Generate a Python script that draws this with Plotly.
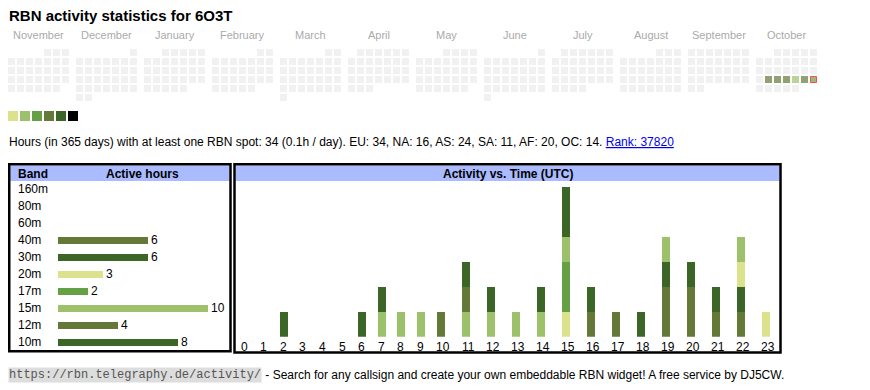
import calendar
import plotly.graph_objects as go

W, H = 870, 390
FONT = "Arial, 'Liberation Sans', Helvetica, sans-serif"
MONO = "'Liberation Mono', 'Courier New', monospace"

# ---------------- data ----------------
title_text = "RBN activity statistics for 6O3T"
month_names = ["November", "December", "January", "February", "March", "April",
               "May", "June", "July", "August", "September", "October"]
month_years = [2024, 2024, 2025, 2025, 2025, 2025, 2025, 2025, 2025, 2025, 2025, 2025]
month_numbers = [11, 12, 1, 2, 3, 4, 5, 6, 7, 8, 9, 10]
active_dates = ["2025-10-21", "2025-10-22", "2025-10-23", "2025-10-24", "2025-10-25", "2025-10-26"]
active_levels = [4, 4, 4, 2, 4, 3]
today = "2025-10-26"
level_colors = ["#dce28c", "#9dc06a", "#65a044", "#647838", "#3b6628", "#000000"]
empty_color = "#ebebeb"

summary_text = ("Hours (in 365 days) with at least one RBN spot: 34 (0.1h / day). "
                "EU: 34, NA: 16, AS: 24, SA: 11, AF: 20, OC: 14. ")
rank_text = "Rank: 37820"

bands = ["160m", "80m", "60m", "40m", "30m", "20m", "17m", "15m", "12m", "10m"]
band_hours = [0, 0, 0, 6, 6, 3, 2, 10, 4, 8]
band_colors = ["#dce28c", "#9dc06a", "#65a044", "#647838", "#3b6628",
               "#dce28c", "#65a044", "#9dc06a", "#647838", "#3b6628"]

hour_labels = [str(h) for h in range(24)]
# stacked from bottom to top
stack_bands = ["40m", "30m", "20m", "17m", "15m", "12m", "10m"]
hourly = {
    "40m": [0, 0, 0, 0, 0, 0, 0, 0, 0, 0, 0, 0, 0, 0, 0, 0, 0, 0, 0, 2, 2, 1, 1, 0],
    "30m": [0, 0, 0, 0, 0, 0, 1, 0, 0, 0, 0, 0, 0, 0, 0, 0, 0, 0, 1, 1, 1, 1, 1, 0],
    "20m": [0, 0, 0, 0, 0, 0, 0, 0, 0, 0, 0, 0, 0, 0, 0, 1, 0, 0, 0, 0, 0, 0, 1, 1],
    "17m": [0, 0, 0, 0, 0, 0, 0, 0, 0, 0, 0, 0, 0, 0, 0, 2, 0, 0, 0, 0, 0, 0, 0, 0],
    "15m": [0, 0, 0, 0, 0, 0, 0, 1, 1, 1, 0, 1, 1, 1, 1, 1, 0, 0, 0, 1, 0, 0, 1, 0],
    "12m": [0, 0, 0, 0, 0, 0, 0, 0, 0, 0, 1, 1, 0, 0, 0, 0, 1, 1, 0, 0, 0, 0, 0, 0],
    "10m": [0, 0, 1, 0, 0, 0, 0, 1, 0, 0, 0, 1, 1, 0, 1, 2, 1, 0, 0, 0, 0, 0, 0, 0],
}

footer_link = "https://rbn.telegraphy.de/activity/"
footer_text = " - Search for any callsign and create your own embeddable RBN widget! A free service by DJ5CW."

# ---------------- layout constants ----------------
CAL_X0, CAL_Y0 = 8, 49
CELL, CELL_SIZE, MONTH_W = 9, 7, 68
LEG_X0, LEG_Y0, LEG_PITCH, LEG_SIZE = 8, 111, 12, 10

TBL = dict(x0=9.25, x1=230.5, y0=164.25, y1=351.25)
ACT = dict(x0=234.5, x1=780.5, y0=164.25, y1=352.5)
HEAD_Y0, HEAD_Y1 = 165.5, 181
ROW_TOP, ROW_H = 180.5, 17
BAR_X0, PX_PER_HOUR = 58, 15

BASE_Y, UNIT_PX, Y_MAX = 336.7, 25, 6.2
HOUR_X0, HOUR_COL_PAD, HOUR_COL_CHAR, BAR_W = 240, 14.2, 5.4, 8


def px(x):
    return x / W


def py(y):
    return 1 - y / H


fig = go.Figure()

# ---------------- calendar ----------------
lookup = dict(zip(active_dates, active_levels))
cx, cy, cc, cs, lc, lw = [], [], [], [], [], []
for m, (yr, mo) in enumerate(zip(month_years, month_numbers)):
    first_wd, ndays = calendar.monthrange(yr, mo)
    for d in range(1, ndays + 1):
        idx = first_wd + d - 1
        col, row = idx % 7, idx // 7
        key = f"{yr:04d}-{mo:02d}-{d:02d}"
        cx.append(CAL_X0 + m * MONTH_W + col * CELL + CELL_SIZE / 2)
        cy.append(CAL_Y0 + row * CELL + CELL_SIZE / 2)
        cc.append(level_colors[lookup[key] - 1] if key in lookup else empty_color)
        if key == today:
            cs.append(CELL_SIZE - 1)
            lc.append("#ff0000")
            lw.append(1)
        else:
            cs.append(CELL_SIZE)
            lc.append(empty_color)
            lw.append(0)

fig.add_trace(go.Scatter(
    x=cx, y=cy, mode="markers", xaxis="x", yaxis="y", hoverinfo="skip",
    marker=dict(symbol="square", size=cs, color=cc, line=dict(color=lc, width=lw)),
))

# colour legend swatches
fig.add_trace(go.Scatter(
    x=[LEG_X0 + LEG_SIZE / 2 + i * LEG_PITCH for i in range(len(level_colors))],
    y=[LEG_Y0 + LEG_SIZE / 2] * len(level_colors),
    mode="markers", xaxis="x", yaxis="y", hoverinfo="skip",
    marker=dict(symbol="square", size=LEG_SIZE, color=level_colors, line=dict(width=0)),
))

# ---------------- band table bars ----------------
fig.add_trace(go.Bar(
    x=band_hours, y=bands, orientation="h", xaxis="x2", yaxis="y2",
    width=7 / ROW_H, marker=dict(color=band_colors, line=dict(width=0)),
    text=[str(v) if v else "" for v in band_hours], textposition="outside",
    textfont=dict(family=FONT, size=12, color="#000"), cliponaxis=False,
    constraintext="none", hoverinfo="skip",
))

# ---------------- activity vs time ----------------
col_left = []
xpos = HOUR_X0
for lab in hour_labels:
    col_left.append(xpos)
    xpos += HOUR_COL_PAD + HOUR_COL_CHAR * len(lab)
bar_centers = [l + BAR_W / 2 for l in col_left]
label_centers = [l + 1 + 3 * len(lab) for l, lab in zip(col_left, hour_labels)]

for b in stack_bands:
    fig.add_trace(go.Bar(
        x=bar_centers, y=hourly[b], width=BAR_W, xaxis="x3", yaxis="y3",
        marker=dict(color=band_colors[bands.index(b)], line=dict(width=0)),
        hoverinfo="skip", name=b,
    ))

# ---------------- annotations ----------------
ann = []
ann.append(dict(text=f"<b>{title_text}</b>", x=px(7), y=py(16), xref="paper", yref="paper",
                xanchor="left", yanchor="middle", showarrow=False,
                font=dict(family=FONT, size=15, color="#000")))
for m, name in enumerate(month_names):
    ann.append(dict(text=name, x=CAL_X0 + m * MONTH_W + (7 * CELL - 2) / 2, y=35,
                    xref="x", yref="y", xanchor="center", yanchor="middle", showarrow=False,
                    font=dict(family=FONT, size=11, color="#aaaaaa")))
ann.append(dict(text=summary_text + f"<span style='color:#0000ee'><u>{rank_text}</u></span>",
                x=px(7), y=py(142), xref="paper", yref="paper", xanchor="left", yanchor="middle",
                showarrow=False, font=dict(family=FONT, size=12, color="#000")))

# table header text
ann.append(dict(text="<b>Band</b>", x=px(16), y=py(173.5), xref="paper", yref="paper",
                xanchor="left", yanchor="middle", showarrow=False,
                font=dict(family=FONT, size=12, color="#000")))
ann.append(dict(text="<b>Active hours</b>", x=px(142), y=py(173.5), xref="paper", yref="paper",
                xanchor="center", yanchor="middle", showarrow=False,
                font=dict(family=FONT, size=12, color="#000")))
ann.append(dict(text="<b>Activity vs. Time (UTC)</b>", x=px((ACT["x0"] + ACT["x1"]) / 2 + 0.5),
                y=py(173.5), xref="paper", yref="paper", xanchor="center", yanchor="middle",
                showarrow=False, font=dict(family=FONT, size=12, color="#000")))
for b in bands:
    ann.append(dict(text=b, x=px(16), y=b, xref="paper", yref="y2", xanchor="left",
                    yanchor="middle", showarrow=False,
                    font=dict(family=FONT, size=12, color="#000")))
for lc_, lab in zip(label_centers, hour_labels):
    ann.append(dict(text=lab, x=lc_, y=py(346.5), xref="x3", yref="paper", xanchor="center",
                    yanchor="middle", showarrow=False,
                    font=dict(family=FONT, size=12, color="#000")))

# footer
mono_size = 12
ann.append(dict(text=footer_link, x=px(8), y=py(374.5), xref="paper", yref="paper",
                xanchor="left", yanchor="middle", showarrow=False, bgcolor="#dddddd", borderpad=0,
                font=dict(family=MONO, size=mono_size, color="#555555")))
link_end = 8 + 0.6 * mono_size * len(footer_link)
ann.append(dict(text=footer_text, x=px(link_end), y=py(374.5), xref="paper", yref="paper",
                xanchor="left", yanchor="middle", showarrow=False,
                font=dict(family=FONT, size=12, color="#000")))

# ---------------- shapes ----------------
shapes = []
shapes.append(dict(type="rect", xref="paper", yref="paper", x0=px(TBL["x0"] + 1), x1=px(TBL["x1"] - 1),
                   y0=py(HEAD_Y0), y1=py(HEAD_Y1), fillcolor="#aabbff", line=dict(width=0), layer="below"))
shapes.append(dict(type="rect", xref="paper", yref="paper", x0=px(ACT["x0"] + 1), x1=px(ACT["x1"] - 1),
                   y0=py(HEAD_Y0), y1=py(HEAD_Y1), fillcolor="#aabbff", line=dict(width=0), layer="below"))
for box in (TBL, ACT):
    shapes.append(dict(type="rect", xref="paper", yref="paper", x0=px(box["x0"]), x1=px(box["x1"]),
                       y0=py(box["y0"]), y1=py(box["y1"]), line=dict(color="#000", width=2.5),
                       fillcolor="rgba(0,0,0,0)"))

hidden = dict(visible=False, showgrid=False, zeroline=False, fixedrange=True)
fig.update_layout(
    width=W, height=H, margin=dict(l=0, r=0, t=0, b=0),
    paper_bgcolor="#ffffff", plot_bgcolor="rgba(0,0,0,0)",
    showlegend=False, barmode="stack", bargap=0,
    xaxis=dict(domain=[0, 1], range=[0, W], **hidden),
    yaxis=dict(domain=[0, 1], range=[H, 0], **hidden),
    xaxis2=dict(domain=[px(BAR_X0), px(BAR_X0 + 12 * PX_PER_HOUR)], range=[0, 12],
                anchor="y2", **hidden),
    yaxis2=dict(domain=[py(ROW_TOP + ROW_H * len(bands)), py(ROW_TOP)], type="category",
                categoryorder="array", categoryarray=bands, range=[len(bands) - 0.5, -0.5],
                anchor="x2", **hidden),
    xaxis3=dict(domain=[px(ACT["x0"] + 1), px(ACT["x1"] - 1)], range=[ACT["x0"] + 1, ACT["x1"] - 1],
                anchor="y3", **hidden),
    yaxis3=dict(domain=[py(BASE_Y), py(BASE_Y - Y_MAX * UNIT_PX)], range=[0, Y_MAX],
                anchor="x3", **hidden),
    annotations=ann, shapes=shapes,
)

fig.write_html("out.html", config={"displayModeBar": False},
               post_script="document.body.style.margin='0px';document.body.style.overflow='hidden';")
